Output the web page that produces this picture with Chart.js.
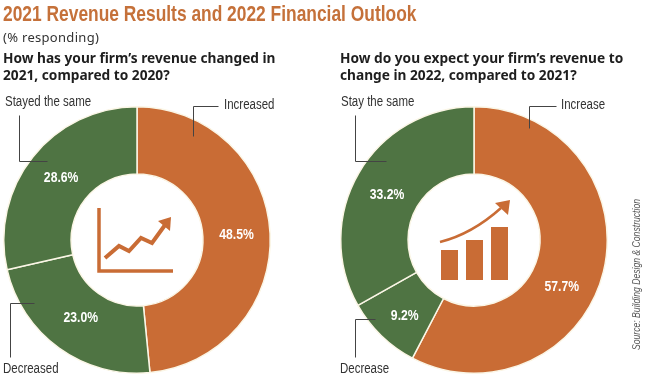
<!DOCTYPE html>
<html>
<head>
<meta charset="utf-8">
<title>2021 Revenue Results and 2022 Financial Outlook</title>
<script src="https://cdn.jsdelivr.net/npm/chart.js@4"></script>
<style>
  html, body { margin: 0; padding: 0; background: #fff; }
  #page { position: relative; width: 650px; height: 381px; overflow: hidden; }
  #page div { position: absolute; white-space: nowrap; }
  canvas { position: absolute; top: 0; }
  /* No hay fuente condensada instalada: se estrecha Liberation Sans con scaleX */
  #title { left: 3px; top: 1px; font: bold 22px/26px "Liberation Sans", sans-serif; color: #c5713a;
           transform-origin: 0 0; transform: scaleX(.79); }
  #unit { left: 3px; top: 28px; font: 13px/18px "Noto Sans", sans-serif; letter-spacing: .3px; color: #333; }
  .question { top: 49px; font: bold 13.7px/17px "Noto Sans", sans-serif; color: #1e1e1e; }
  #source { left: 630px; top: 350px; font: italic 11.5px/13px "Liberation Sans", sans-serif; color: #555;
            transform-origin: 0 0; transform: rotate(-90deg) scaleX(.75); }
</style>
</head>
<body>
<div id="page">
  <canvas id="left" width="325" height="381" style="left:0;width:325px;height:381px"></canvas>
  <canvas id="right" width="325" height="381" style="left:325px;width:325px;height:381px"></canvas>
  <div id="title">2021 Revenue Results and 2022 Financial Outlook</div>
  <div id="unit">(% responding)</div>
  <div class="question" style="left:3px">How has your firm’s revenue changed in<br>2021, compared to 2020?</div>
  <div class="question" style="left:340px">How do you expect your firm’s revenue to<br>change in 2022, compared to 2021?</div>
  <div id="source">Source: Building Design &amp; Construction</div>
</div>
<script>
const leftCategories = ['Increased', 'Decreased', 'Stayed the same'];
const leftValues = [48.5, 23.0, 28.6];
const rightCategories = ['Increase', 'Decrease', 'Stay the same'];
const rightValues = [57.7, 9.2, 33.2];

const ORANGE = '#c96c35';
const GREEN = '#4f7443';
const CREAM = '#fbf6e6';
const INK = '#333';

/* Etiqueta + guía de cada sector, en coordenadas del canvas */
const leftNotes = [
  { x: 224, y: 105, line: [[218, 106], [193, 106], [193, 136]] },
  { x: 3, y: 369, line: [[34, 303], [10, 303], [10, 357]] },
  { x: 5, y: 102, line: [[19, 115], [19, 161], [47, 161]] },
];
const rightNotes = [
  { x: 236, y: 105, line: [[231, 106], [204, 106], [204, 128]] },
  { x: 15, y: 369, line: [[50, 319], [30, 319], [30, 357]] },
  { x: 16, y: 102, line: [[30, 115], [30, 161], [61, 161]] },
];

/* Desplazamiento del % respecto al centro del sector (57.7% va más abajo en el original) */
const rightNudge = [[-9, 23], [0, 4], [-1, 5]];
const leftNudge = [[0, 0], [2, -3], [2, 0]];

/* Texto estrechado horizontalmente, anclado en x */
function narrowText(ctx, text, x, y, stretch) {
  ctx.save();
  ctx.translate(x, y);
  ctx.scale(stretch, 1);
  ctx.fillText(text, 0, 0);
  ctx.restore();
}

function drawLineIcon(ctx, cx, cy) {
  ctx.strokeStyle = ORANGE;
  ctx.fillStyle = ORANGE;
  ctx.lineWidth = 3.5;
  ctx.beginPath();
  ctx.moveTo(cx - 38, cy - 32);
  ctx.lineTo(cx - 38, cy + 31);
  ctx.lineTo(cx + 36, cy + 31);
  ctx.stroke();
  ctx.lineWidth = 4;
  ctx.beginPath();
  ctx.moveTo(cx - 32, cy + 18);
  ctx.lineTo(cx - 18, cy + 6);
  ctx.lineTo(cx - 8, cy + 11);
  ctx.lineTo(cx + 4, cy - 2);
  ctx.lineTo(cx + 15, cy + 3);
  ctx.lineTo(cx + 28, cy - 15);
  ctx.stroke();
  ctx.beginPath();
  ctx.moveTo(cx + 21, cy - 19);
  ctx.lineTo(cx + 34, cy - 23);
  ctx.lineTo(cx + 33, cy - 9);
  ctx.closePath();
  ctx.fill();
}

function drawBarIcon(ctx, cx, cy) {
  ctx.strokeStyle = ORANGE;
  ctx.fillStyle = ORANGE;
  ctx.fillRect(cx - 33, cy + 10, 17, 30);
  ctx.fillRect(cx - 8, cy, 17, 40);
  ctx.fillRect(cx + 17, cy - 13, 17, 53);
  ctx.lineWidth = 2.5;
  ctx.beginPath();
  ctx.moveTo(cx - 34, cy + 2);
  ctx.quadraticCurveTo(cx - 2, cy - 6, cx + 27, cy - 32);
  ctx.stroke();
  ctx.beginPath();
  ctx.moveTo(cx + 21, cy - 37);
  ctx.lineTo(cx + 36, cy - 40);
  ctx.lineTo(cx + 34, cy - 25);
  ctx.closePath();
  ctx.fill();
}

function donut(id, categories, values, notes, nudge, icon, padding) {
  const annotations = {
    id: 'annotations',
    afterDraw(chart) {
      const ctx = chart.ctx;
      const arcs = chart.getDatasetMeta(0).data;
      ctx.save();
      ctx.textBaseline = 'middle';

      ctx.fillStyle = '#fff';
      ctx.textAlign = 'center';
      ctx.font = 'bold 14.5px "Liberation Sans", sans-serif';
      arcs.forEach((arc, i) => {
        const p = arc.getCenterPoint();
        narrowText(ctx, values[i].toFixed(1) + '%', p.x + nudge[i][0], p.y + nudge[i][1], 0.84);
      });

      ctx.textAlign = 'left';
      ctx.font = '14px "Liberation Sans", sans-serif';
      ctx.strokeStyle = '#444';
      ctx.lineWidth = 1;
      notes.forEach((n, i) => {
        ctx.fillStyle = INK;
        narrowText(ctx, categories[i], n.x, n.y, 0.82);
        ctx.beginPath();
        n.line.forEach(([x, y], k) => k ? ctx.lineTo(x + .5, y + .5) : ctx.moveTo(x + .5, y + .5));
        ctx.stroke();
      });

      icon(ctx, arcs[0].x, arcs[0].y);
      ctx.restore();
    },
  };

  return new Chart(document.getElementById(id), {
    type: 'doughnut',
    data: {
      labels: categories,
      datasets: [{
        data: values,
        backgroundColor: [ORANGE, GREEN, GREEN],
        borderColor: CREAM,
        borderWidth: 1.5,
      }],
    },
    options: {
      responsive: false,
      animation: false,
      cutout: '49.5%',
      layout: { padding },
      plugins: { legend: { display: false }, tooltip: { enabled: false } },
    },
    plugins: [annotations],
  });
}

donut('left', leftCategories, leftValues, leftNotes, leftNudge, drawLineIcon,
  { left: 3, top: 106, right: 54, bottom: 7 });
donut('right', rightCategories, rightValues, rightNotes, rightNudge, drawBarIcon,
  { left: 15, top: 106, right: 42, bottom: 7 });
</script>
</body>
</html>
